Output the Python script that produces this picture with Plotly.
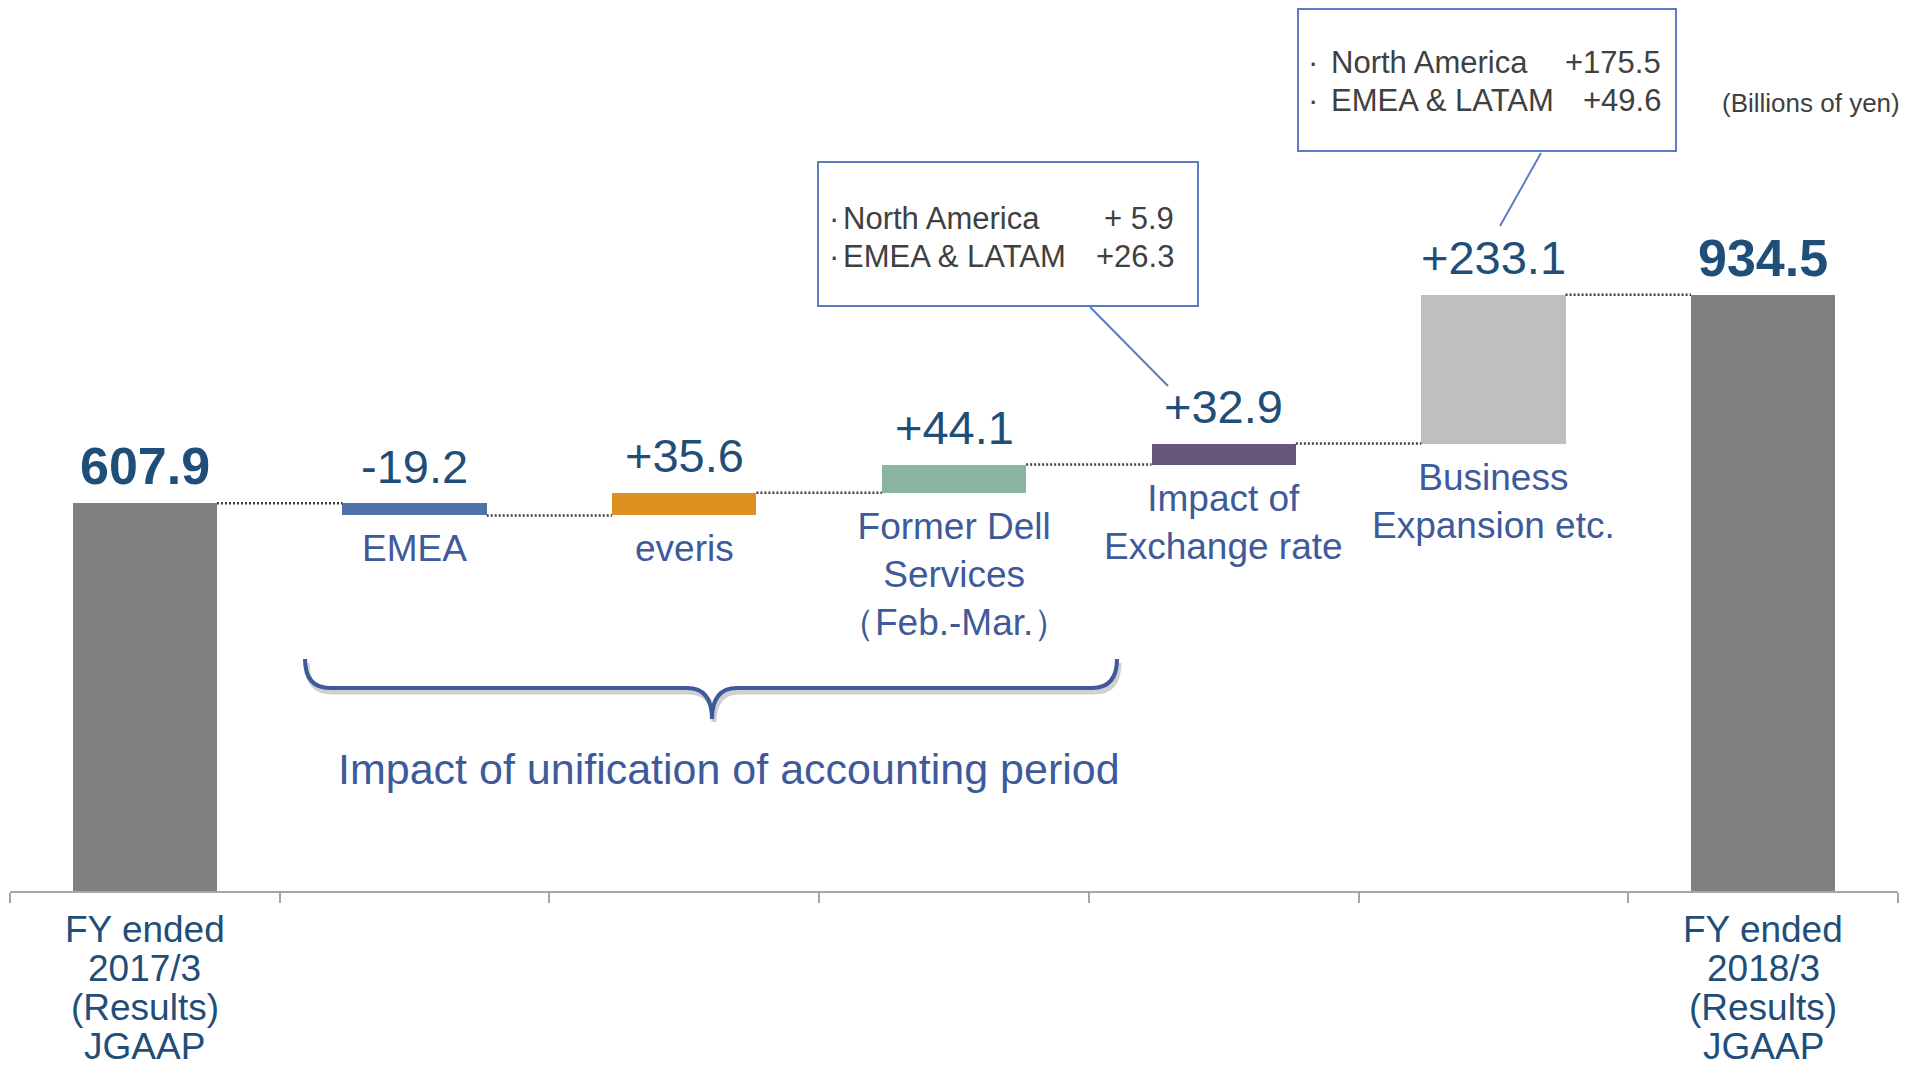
import plotly.graph_objects as go

# ---------------- data ----------------
categories = ["FY2017/3", "EMEA", "everis", "Former Dell Services",
              "Impact of Exchange rate", "Business Expansion etc.", "FY2018/3"]
start_value = 607.9
deltas = [-19.2, 35.6, 44.1, 32.9, 233.1]
end_value = 934.5
value_labels = ["607.9", "-19.2", "+35.6", "+44.1", "+32.9", "+233.1", "934.5"]
bar_labels = ["", "EMEA", "everis", "Former Dell<br>Services<br>（Feb.-Mar.）",
              "Impact of<br>Exchange rate", "Business<br>Expansion etc.", ""]
tick_labels = ["FY ended<br>2017/3<br>(Results)<br>JGAAP", "", "", "", "", "",
               "FY ended<br>2018/3<br>(Results)<br>JGAAP"]
bar_colors = ["#808080", "#4E72A9", "#DE9120", "#8AB69F", "#68557A", "#BFBFBF", "#808080"]
callout_exchange = [("North America", "+ 5.9"), ("EMEA & LATAM", "+26.3")]
callout_business = [("North America", "+175.5"), ("EMEA & LATAM", "+49.6")]
brace_text = "Impact of unification of accounting period"
unit_text = "(Billions of yen)"

# ---------------- derived bar geometry ----------------
bases, heights, levels = [0.0], [start_value], [start_value]
running = start_value
for d in deltas:
    bases.append(running if d >= 0 else running + d)
    heights.append(abs(d))
    running += d
    levels.append(running)
bases.append(0.0)
heights.append(end_value)
tops = [b + h for b, h in zip(bases, heights)]

FONT = "Arial, Liberation Sans, sans-serif"
DARK = "#1F4E79"
CAT = "#3E5A9A"
BOXC = "#5A7CC2"
TXT = "#404040"
BAR_W = 0.535

# layout geometry (pixels)
W, H = 1914, 1074
ML, MR, MT, MB = 10, 16, 0, 183
PW, PH = W - ML - MR, H - MT - MB


def px(x):
    return (x - ML) / PW


def py(y):
    return (H - MB - y) / PH


fig = go.Figure()
fig.add_trace(go.Bar(
    x=categories, y=heights, base=bases, width=BAR_W,
    marker=dict(color=bar_colors, line=dict(width=0)),
    hoverinfo="skip", showlegend=False,
))

shapes = []
annotations = []

# connectors
for i in range(len(categories) - 1):
    lvl = levels[i] if i < len(levels) else end_value
    shapes.append(dict(type="line", xref="x", yref="y",
                       x0=i + BAR_W / 2, x1=i + 1 - BAR_W / 2, y0=lvl, y1=lvl,
                       line=dict(color=TXT, width=2.5, dash="2px,2px")))

# value labels
for i, (t, lab) in enumerate(zip(tops, value_labels)):
    bold = i in (0, len(categories) - 1)
    annotations.append(dict(
        x=i, y=t, xref="x", yref="y", text=f"<b>{lab}</b>" if bold else lab,
        showarrow=False, yanchor="middle", yshift=37,
        font=dict(family=FONT, size=52 if bold else 47, color=DARK)))

# category labels under floating bars
for i, (b, lab) in enumerate(zip(bases, bar_labels)):
    if not lab:
        continue
    annotations.append(dict(
        x=i, y=b, xref="x", yref="y", text=lab, showarrow=False,
        yanchor="top", yshift=-11,
        font=dict(family=FONT, size=37, color=CAT)))

# x tick labels (one annotation per line for tight line spacing)
for i, lab in enumerate(tick_labels):
    if not lab:
        continue
    for k, line in enumerate(lab.split("<br>")):
        annotations.append(dict(
            x=i, y=py(929 + 39 * k), xref="x", yref="paper",
            text=line, showarrow=False, yanchor="middle",
            font=dict(family=FONT, size=37, color=DARK)))


# callout boxes
def callout(rows, x0, y0, x1, y1, dot_x, lab_x, val_x, row_y, line_pts):
    shapes.append(dict(type="rect", xref="paper", yref="paper",
                       x0=px(x0), x1=px(x1), y0=py(y1), y1=py(y0),
                       line=dict(color=BOXC, width=2), fillcolor="white", layer="above"))
    for (name, val), ry in zip(rows, row_y):
        annotations.append(dict(x=px(dot_x), y=py(ry), xref="paper", yref="paper",
                                text="·", showarrow=False,
                                xanchor="center", yanchor="middle",
                                font=dict(family=FONT, size=31, color=TXT)))
        annotations.append(dict(x=px(lab_x), y=py(ry), xref="paper", yref="paper",
                                text=name, showarrow=False,
                                xanchor="left", yanchor="middle",
                                font=dict(family=FONT, size=31, color=TXT)))
        annotations.append(dict(x=px(val_x), y=py(ry), xref="paper", yref="paper",
                                text=val, showarrow=False,
                                xanchor="right", yanchor="middle",
                                font=dict(family=FONT, size=31, color=TXT)))
    (a, b), (c, d) = line_pts
    shapes.append(dict(type="line", xref="paper", yref="paper",
                       x0=px(a), y0=py(b), x1=px(c), y1=py(d),
                       line=dict(color=BOXC, width=2)))


callout(callout_exchange, 818, 162, 1198, 306, 834, 841, 1176, [218, 256],
        [(1090, 307), (1168, 386)])
callout(callout_business, 1298, 9, 1676, 151, 1313, 1329, 1663, [62, 100],
        [(1541, 153), (1500, 226)])

# unit text
annotations.append(dict(x=px(1902), y=py(103), xref="paper", yref="paper",
                        text=unit_text, showarrow=False, xanchor="right", yanchor="middle",
                        font=dict(family=FONT, size=26, color=TXT)))


# brace
def brace_path(xl, xr, xm, ytop, ymid, ytip, r=25):
    p = [f"M {px(xl)},{py(ytop)}",
         f"Q {px(xl)},{py(ymid)} {px(xl + r)},{py(ymid)}",
         f"L {px(xm - r)},{py(ymid)}",
         f"Q {px(xm)},{py(ymid)} {px(xm)},{py(ytip)}",
         f"Q {px(xm)},{py(ymid)} {px(xm + r)},{py(ymid)}",
         f"L {px(xr - r)},{py(ymid)}",
         f"Q {px(xr)},{py(ymid)} {px(xr)},{py(ytop)}"]
    return " ".join(p)


shapes.append(dict(type="path", xref="paper", yref="paper",
                   path=brace_path(307, 1119, 714, 663, 692, 722),
                   line=dict(color="rgba(120,120,120,0.35)", width=5)))
shapes.append(dict(type="path", xref="paper", yref="paper",
                   path=brace_path(305, 1117, 712, 659, 688, 719),
                   line=dict(color=CAT, width=4)))
annotations.append(dict(x=px(729), y=py(769), xref="paper", yref="paper",
                        text=brace_text, showarrow=False, xanchor="center", yanchor="middle",
                        font=dict(family=FONT, size=43, color=CAT)))

fig.update_layout(
    width=W, height=H,
    margin=dict(l=ML, r=MR, t=MT, b=MB),
    paper_bgcolor="white", plot_bgcolor="white",
    bargap=0, showlegend=False,
    shapes=shapes, annotations=annotations,
    xaxis=dict(type="category", tickmode="array", tickvals=categories,
               ticktext=[""] * len(categories),
               tickson="boundaries", ticks="outside", ticklen=10, tickwidth=1.5,
               tickcolor="#A6A6A6", showline=True, linecolor="#A6A6A6", linewidth=2,
               showgrid=False, zeroline=False, fixedrange=True,
               tickfont=dict(family=FONT, size=37, color=DARK)),
    yaxis=dict(visible=False, range=[0, PH / 0.638], showgrid=False, zeroline=False,
               fixedrange=True),
)

fig.write_html("out.html", config={"displayModeBar": False},
               post_script="document.body.style.margin='0px';document.body.style.overflow='hidden';")
